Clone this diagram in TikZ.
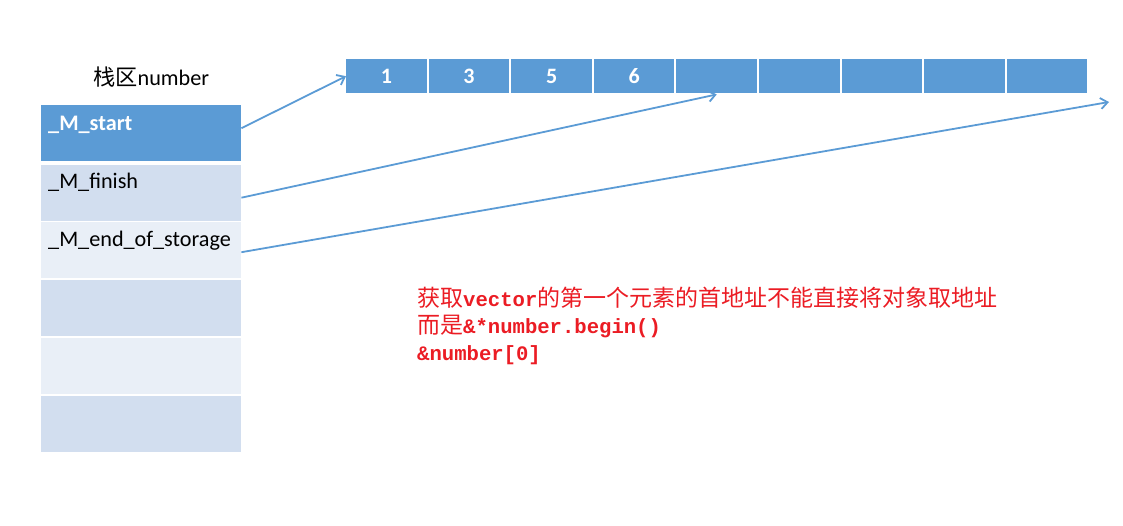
\documentclass[tikz,border=0pt]{standalone}
\usepackage{fontspec}
\setmainfont{Carlito}
\newfontfamily\cjk{Noto Sans CJK SC}
\newfontfamily\monof{Liberation Mono}
\usetikzlibrary{arrows.meta}
\definecolor{dblue}{RGB}{91,155,213}
\definecolor{lblueA}{RGB}{210,222,239}
\definecolor{lblueB}{RGB}{233,239,247}
\definecolor{redtxt}{RGB}{235,28,36}
\newcommand\codetxt[1]{{\fontsize{20.6}{27}\selectfont\monof\bfseries #1}}
\begin{document}
\begin{tikzpicture}[x=1pt,y=-1pt,
  cell/.style={fill=dblue, minimum width=80.6pt, minimum height=34pt, inner sep=0pt,
    anchor=north west, text=white, font=\fontsize{22}{25}\selectfont\bfseries},
  rowbox/.style={fill=#1, minimum width=200pt, minimum height=56pt, inner sep=0pt, anchor=north west},
  rowtext/.style={anchor=base west, inner sep=0pt, font=\fontsize{22.2}{25}\selectfont},
  redt/.style={anchor=base west, inner sep=0pt, text=redtxt, font=\fontsize{23}{27}\selectfont\cjk},
  arr/.style={draw=dblue, line width=1.8pt, -{Straight Barb[length=7pt,width=11pt]}}
]
\useasboundingbox (0,0) rectangle (1123,525);

% title
\node[rowtext] (title) at (93,85) {{\cjk 栈区}number};

% stack rows
\node[rowbox=dblue]  (r1) at (41,105) {};
\node[rowbox=lblueA] (r2) at (41,165) {};
\node[rowbox=lblueB] (r3) at (41,222) {};
\node[rowbox=lblueA] (r4) at (41,280) {};
\node[rowbox=lblueB] (r5) at (41,338) {};
\node[rowbox=lblueA] (r6) at (41,396) {};

\node[rowtext, text=white, font=\fontsize{22.2}{25}\selectfont\bfseries] (l1) at (48,130) {\_M\_start};
\node[rowtext] (l2) at (48,188) {\_M\_finish};
\node[rowtext] (l3) at (48,246) {\_M\_end\_of\_storage};

% array cells
\foreach \i/\t in {1/1,2/3,3/5,4/6,5/,6/,7/,8/,9/}{
  \node[cell] (c\i) at ({346+(\i-1)*82.56},59) {\t};
}

% arrows
\coordinate (e3) at (1109,102);
\draw[arr] ([yshift=5pt]r1.east) -- (c1.west);
\draw[arr] ([yshift=-4.5pt]r2.east) -- ([yshift=-1pt]c5.south);
\draw[arr] ([yshift=-2pt]r3.east) -- (e3);

% red note
\node[redt] (t1) at (417,306) {获取\codetxt{vector}的第一个元素的首地址不能直接将对象取地址};
\node[redt] (t2) at (417,333) {而是\codetxt{\&*number.begin()}};
\node[redt] (t3) at (417,360) {\codetxt{\&number[0]}};
\end{tikzpicture}
\end{document}
